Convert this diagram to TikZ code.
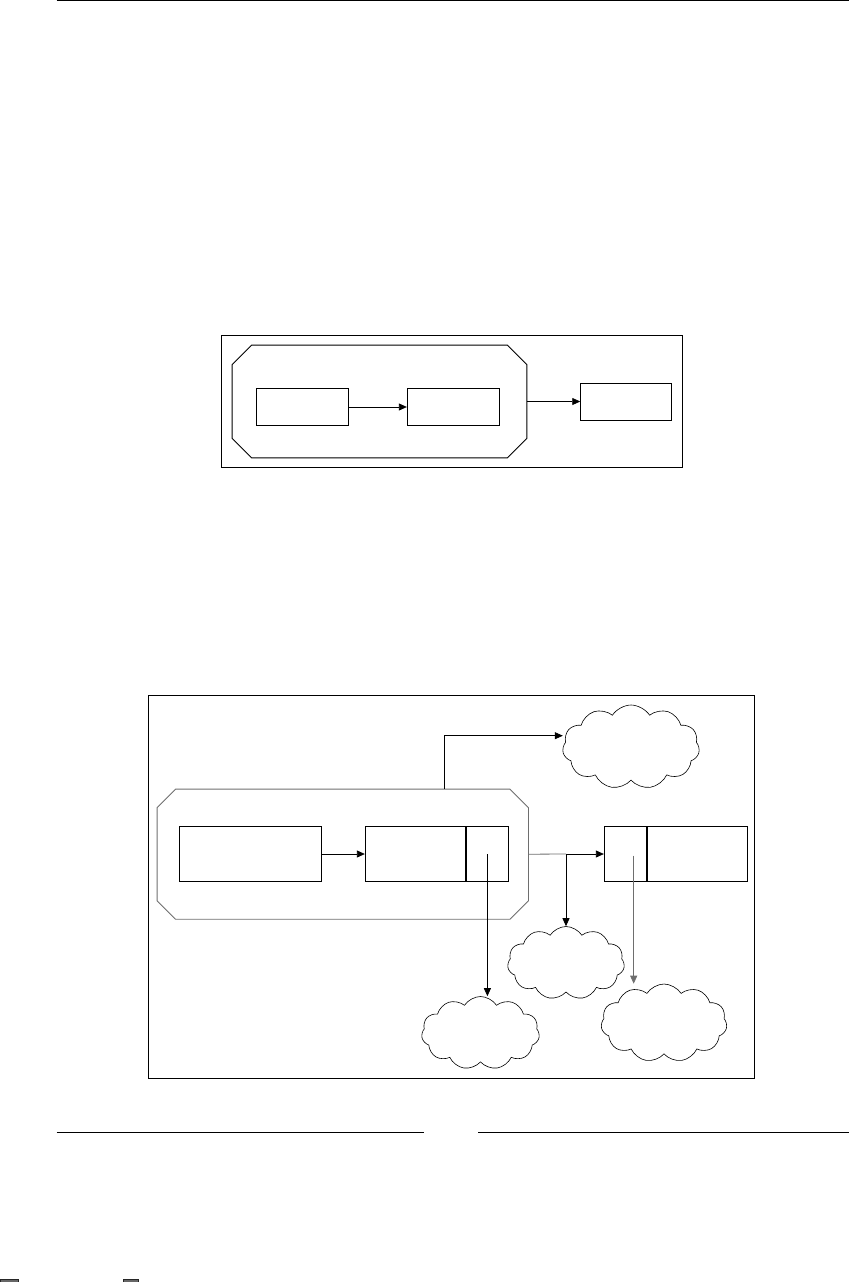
\documentclass[tikz,border=0pt]{standalone}
\usepackage{tikz}
\usetikzlibrary{arrows.meta,positioning,shapes.symbols}
\definecolor{octgrey}{HTML}{6E6E6E}

\newcommand{\chamfer}[3][black]{% colour, node, cut
  \draw[#1,line width=0.9pt] ([xshift=#3]#2.north west) -- ([xshift=-#3]#2.north east)
    -- ([yshift=-#3]#2.north east) -- ([yshift=#3]#2.south east)
    -- ([xshift=-#3]#2.south east) -- ([xshift=#3]#2.south west)
    -- ([yshift=#3]#2.south west) -- ([yshift=-#3]#2.north west) -- cycle;}

\begin{document}
\begin{tikzpicture}[x=1pt,y=-1pt,
    frame/.style={draw,line width=1pt,inner sep=0pt},
    block/.style={draw,line width=0.9pt,inner sep=0pt,minimum height=54.5pt},
    octbox/.style={inner sep=0pt},
    puff/.style={draw,cloud,cloud puffs=11,cloud puff arc=115,inner sep=0pt,
      line width=0.6pt,cloud ignores aspect},
    link/.style={line width=0.8pt,-{Triangle[length=8pt,width=7pt]}}]
  \useasboundingbox (0,0) rectangle (849,1282);
  % page rules
  \draw[line width=1.3pt] (56.7,0.7) -- (849,0.7);
  \draw[line width=1.1pt] (56.7,1132.3) -- (424,1132.3);
  \draw[line width=1.1pt] (478,1132.3) -- (849,1132.3);
  \draw[black!85,fill=black!60,line width=0.8pt] (0.3,1279.5) rectangle (18,1283);
  \draw[black!85,fill=black!60,line width=0.8pt] (123,1279.5) rectangle (138,1283);

  % upper figure
  \node[frame,minimum width=461.7pt,minimum height=132pt] (frameA) at (451.9,401) {};
  \node[octbox,minimum width=294.4pt,minimum height=112.3pt] (octA) at (379.5,401.5) {};
  \chamfer{octA}{19.5pt}
  \node[block,minimum width=92.4pt,minimum height=37.4pt] (srcA) at (302.5,407) {};
  \node[block,minimum width=92pt,minimum height=37.4pt] (dstA) at (453.3,407) {};
  \node[block,minimum width=91pt,minimum height=37pt] (outA) at (626.2,401.5) {};
  \draw[link] (srcA) -- (dstA);
  \draw[link] (octA) -- (outA);

  % lower figure
  \node[frame,minimum width=606pt,minimum height=383.3pt] (frameB) at (451.3,886.7) {};
  \node[octbox,minimum width=371pt,minimum height=129.7pt] (octB) at (342.8,854.2) {};
  \chamfer[octgrey]{octB}{18.5pt}
  \node[block,minimum width=142.4pt] (srcB) at (250.5,854) {};
  \node[block,minimum width=100pt] (midB) at (415.3,854) {};
  \node[block,minimum width=42.4pt,right=0pt of midB] (midtab) {};
  \node[block,minimum width=42.4pt] (endtab) at (625.5,854) {};
  \node[block,minimum width=100pt,right=0pt of endtab] (endB) {};
  \node[puff,minimum width=137pt,minimum height=84pt] (cloudN) at (631,747) {};
  \node[puff,minimum width=117pt,minimum height=73pt] (cloudM) at (566,963) {};
  \node[puff,minimum width=118pt,minimum height=73pt] (cloudS) at (480.5,1033) {};
  \node[puff,minimum width=126pt,minimum height=78pt] (cloudE) at (664,1023) {};
  \coordinate (rise) at (444.3,735.7);
  \coordinate (split) at (566,854);
  \coordinate (drop) at (633.7,855.7);

  \draw[link] (srcB) -- (midB);
  \draw[link] (octB.north -| rise) -- (rise) -- (rise -| cloudN.west);
  \draw[line width=0.8pt,octgrey] (octB.east) -- (split);
  \draw[link] (split) -- (endtab.west);
  \draw[link] (split) -- (cloudM.north);
  \draw[link] (midtab.center) -- (midtab.center |- cloudS.north);
  \draw[link,octgrey] (drop) -- (drop |- cloudE.north);
\end{tikzpicture}
\end{document}
